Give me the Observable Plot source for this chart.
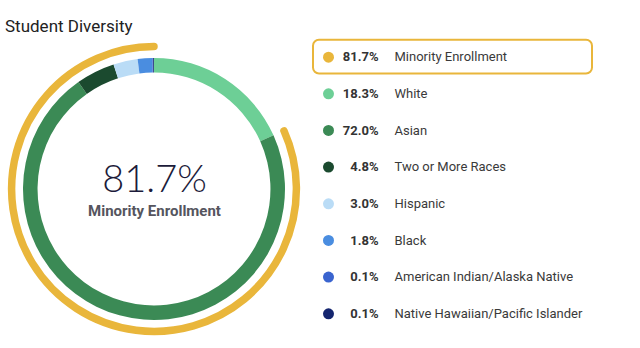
<!DOCTYPE html>
<html>
<head>
<meta charset="utf-8">
<script src="https://cdn.jsdelivr.net/npm/d3@7"></script>
<script src="https://cdn.jsdelivr.net/npm/@observablehq/plot@0.6"></script>
<style>
  body { margin: 0; background: #fff; }
  #wrap { position: relative; width: 640px; height: 348px; overflow: hidden; font-family: Roboto, sans-serif; }
  #title { position: absolute; left: 5px; top: 16px; font-size: 17px; line-height: 20px; color: #222; white-space: nowrap; }
  #donut { position: absolute; left: 0; top: 0; }
  #legend { position: absolute; left: 300px; top: 0; }
</style>
</head>
<body>
<div id="wrap">
  <div id="donut"></div>
  <div id="legend"></div>
  <div id="title"></div>
</div>
<script>
// ---- data ----
const chartTitle = "Student Diversity";
const minorityLabel = "Minority Enrollment";
const minorityShare = 81.7;
const minorityColor = "#e9b63b";
const categories = ["White", "Asian", "Two or More Races", "Hispanic", "Black", "American Indian/Alaska Native", "Native Hawaiian/Pacific Islander"];
const shares = [18.3, 72.0, 4.8, 3.0, 1.8, 0.1, 0.1];
const colors = ["#6dcf96", "#3b8a55", "#1b4a2f", "#badcf6", "#4a8de0", "#3a64cf", "#14256f"];

document.getElementById("title").textContent = chartTitle;

const ringData = categories.map((c, i) => ({label: c, share: shares[i], color: colors[i]}));
const legendRows = [{label: minorityLabel, share: minorityShare, color: minorityColor}, ...ringData];
const fmt = v => v.toFixed(1) + "%";

// ---- donut ----
const W1 = 300, H = 348, unitPx = 131, cxPx = 154, cyPx = 189;
function ringMark(index, scales) {
  const cx = scales.x(0), cy = scales.y(0);
  const u = scales.x(1) - cx;
  const g = d3.create("svg:g");
  const pie = d3.pie().sort(null).value(d => d.share)(ringData);
  const arc = d3.arc().innerRadius(0.889 * u).outerRadius(1.0 * u);
  g.append("g").attr("transform", `translate(${cx},${cy})`)
    .selectAll("path").data(pie).join("path")
    .attr("d", arc).attr("fill", d => d.data.color);
  const p = d3.path();
  const r = 1.087 * u;
  p.arc(cx, cy, r, -Math.PI / 2, -Math.PI / 2 - minorityShare / 100 * 2 * Math.PI, true);
  g.append("path").attr("d", p.toString()).attr("fill", "none")
    .attr("stroke", minorityColor).attr("stroke-width", 7.5).attr("stroke-linecap", "round");
  return g.node();
}

const donut = Plot.plot({
  width: W1, height: H, margin: 0,
  style: {background: "transparent", overflow: "visible"},
  x: {domain: [-cxPx / unitPx, (W1 - cxPx) / unitPx], axis: null},
  y: {domain: [-(H - cyPx) / unitPx, cyPx / unitPx], axis: null},
  marks: [
    ringMark,
    Plot.text([minorityShare], {x: 0, y: 0, text: d => fmt(d), fontSize: 38, fontWeight: 300,
      fontFamily: "Lato, Inter, sans-serif", fill: "#1c1b3a", dy: -10, textAnchor: "middle"}),
    Plot.text([minorityLabel], {x: 0, y: 0, text: d => d, fontSize: 15, fontWeight: "bold",
      fontFamily: "Roboto, sans-serif", fill: "#55555e", dy: 22, textAnchor: "middle"})
  ]
});
document.getElementById("donut").append(donut);

// ---- legend ----
const W2 = 340;
const legendLabels = legendRows.map(d => d.label);
const legend = Plot.plot({
  width: W2, height: H, marginTop: 38.3, marginBottom: 16.4, marginLeft: 0, marginRight: 0,
  style: {background: "transparent", overflow: "visible", fontFamily: "Roboto, sans-serif"},
  x: {domain: [0, W2], axis: null},
  y: {type: "band", domain: legendLabels, padding: 0, round: false, axis: null},
  color: {type: "identity"},
  marks: [
    Plot.barX([legendRows[0]], {x1: 13, x2: 292, y: "label", fill: "white", stroke: minorityColor,
      strokeWidth: 2, rx: 6, insetTop: 1.5, insetBottom: 1.5}),
    Plot.dot(legendRows, {x: 28, y: "label", r: 5.5, fill: d => d.color, stroke: null}),
    Plot.text(legendRows, {x: 78, y: "label", text: d => fmt(d.share), textAnchor: "end",
      fontWeight: "bold", fontSize: 13, fill: "#333"}),
    Plot.text(legendRows, {x: 94, y: "label", text: "label", textAnchor: "start",
      fontSize: 13, fill: "#3a3a3a"})
  ]
});
document.getElementById("legend").append(legend);
</script>
</body>
</html>
